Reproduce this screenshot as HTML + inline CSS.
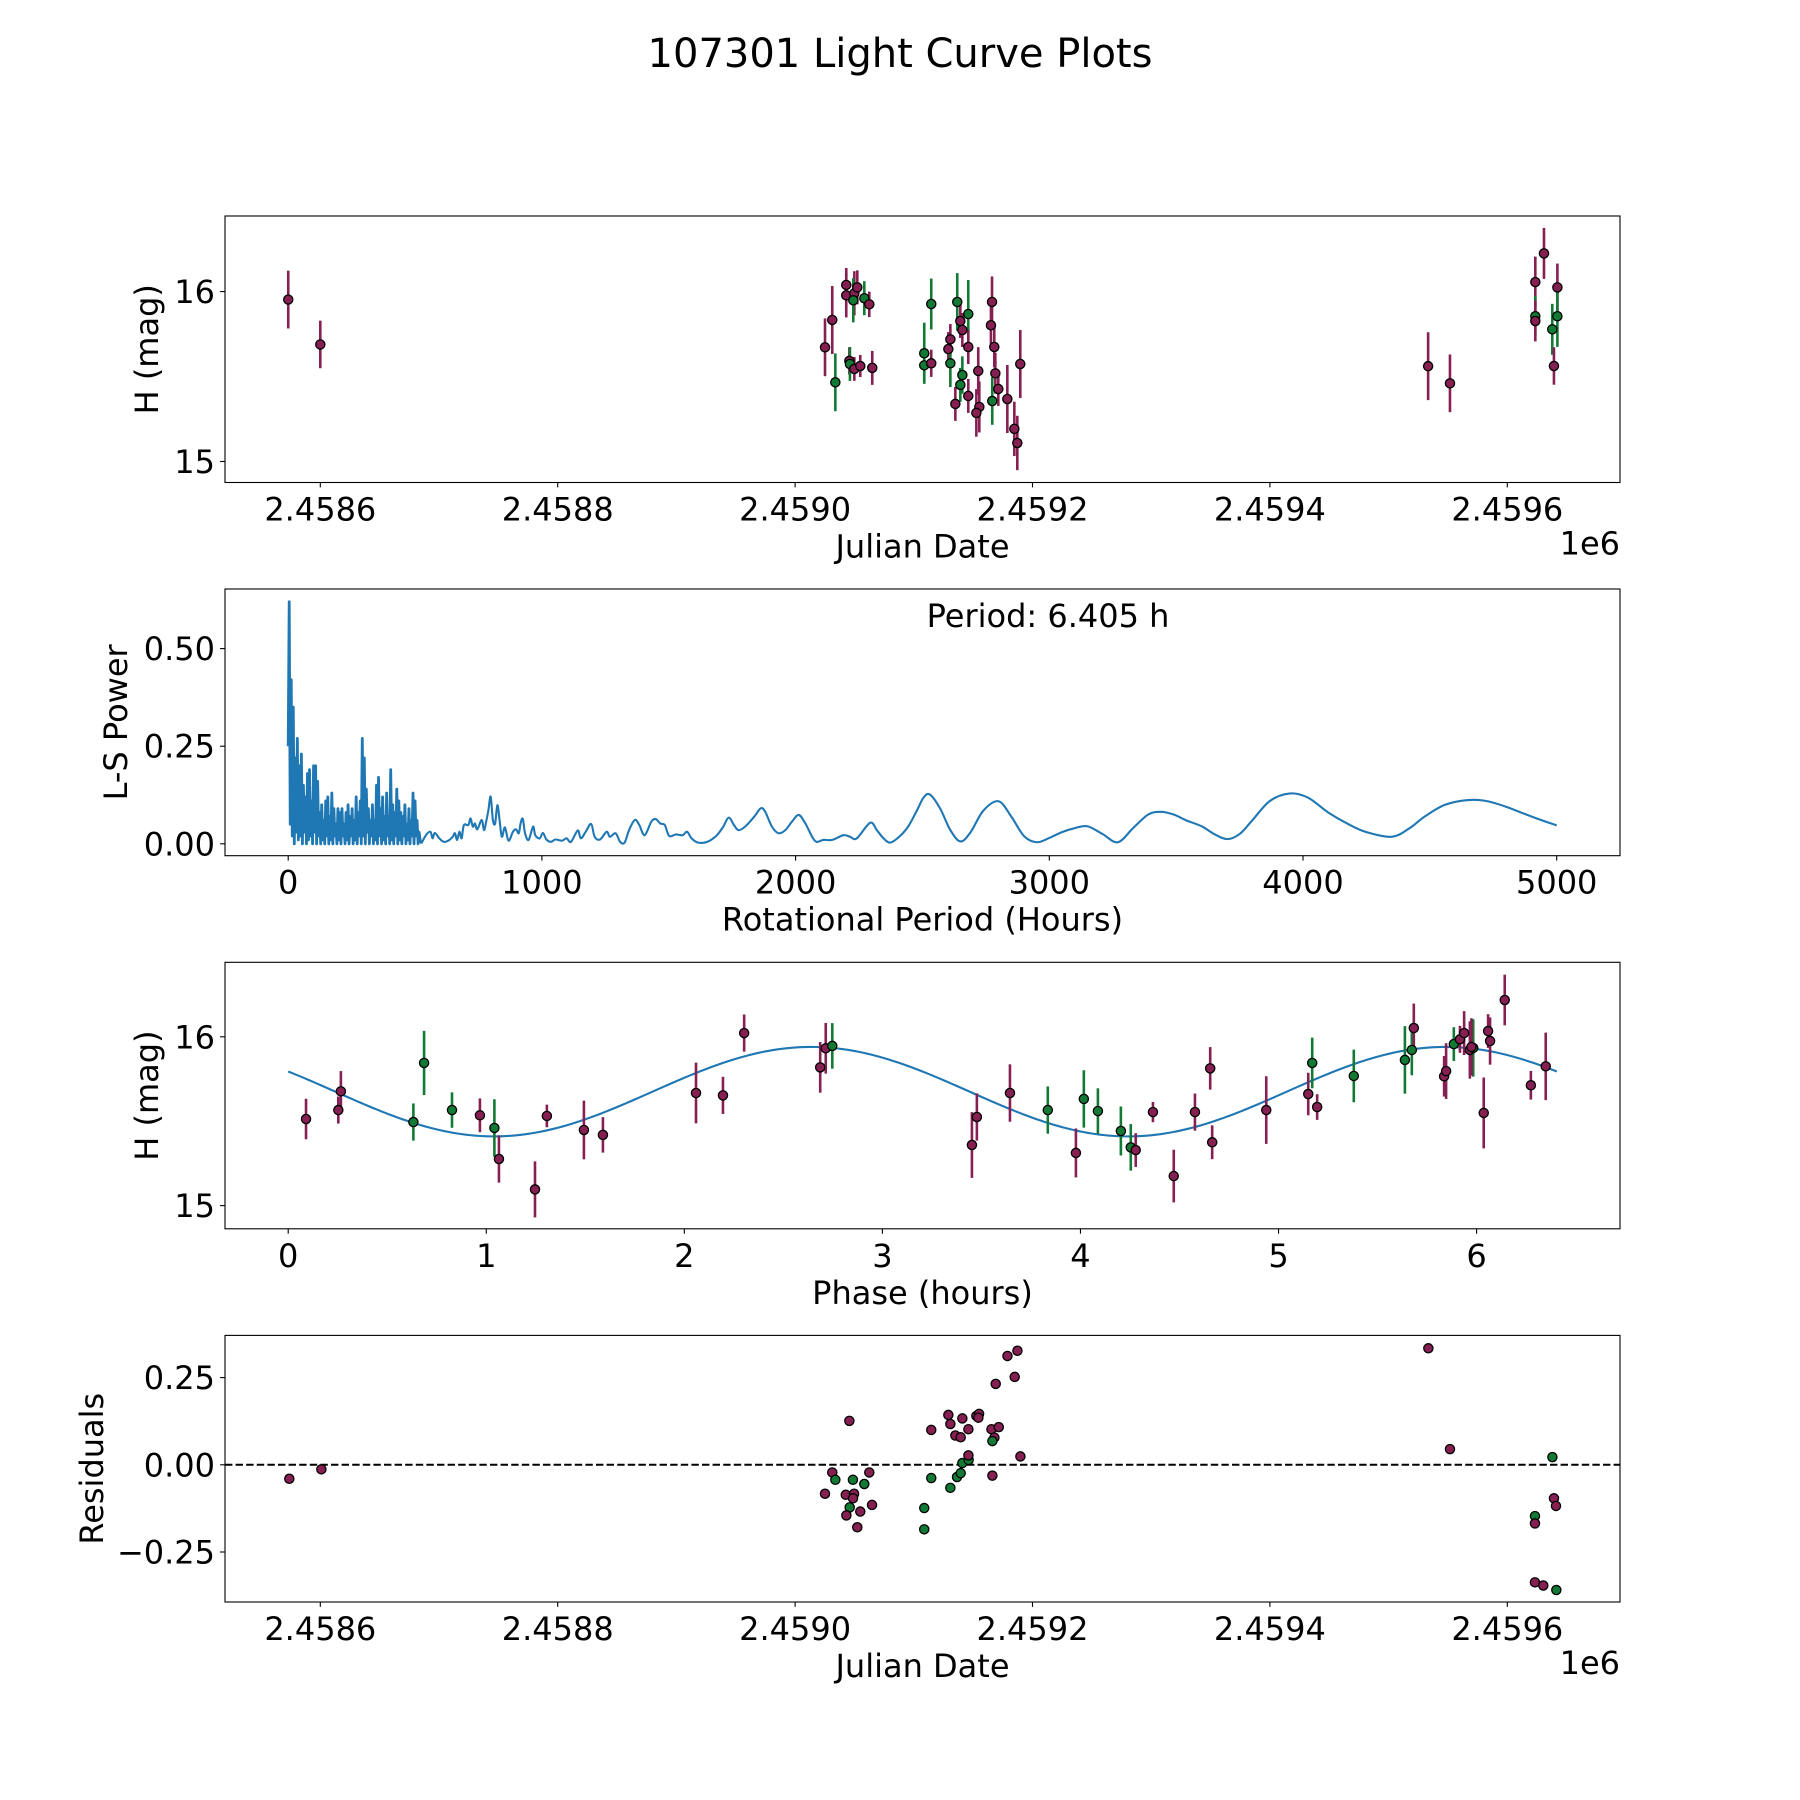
<!DOCTYPE html>
<html><head><meta charset="utf-8"><title>107301 Light Curve Plots</title>
<style>html,body{margin:0;padding:0;background:#fff}svg{display:block}text{font-family:"DejaVu Sans","Liberation Sans",sans-serif;fill:#000}</style>
</head><body>
<svg id="fig" xmlns="http://www.w3.org/2000/svg" width="1800" height="1800" viewBox="0 0 1800 1800">
<rect x="0" y="0" width="1800" height="1800" fill="#fff"/>
<text x="900" y="67" font-size="40" text-anchor="middle">107301 Light Curve Plots</text>
</svg>
<script>
// ---------- Panel 1 data: Julian date, H mag, error, filter ----------
const lcJD = [2458573.0,2458600.0,2459025.2,2459031.3,2459033.9,2459043.1,2459043.1,2459049.9,2459049.0,2459052.4,2459058.3,2459062.5,2459045.7,2459046.2,2459049.9,2459054.9,2459065.0,2459108.8,2459108.8,2459114.7,2459114.7,2459136.6,2459139.2,2459140.9,2459145.9,2459130.8,2459129.1,2459130.8,2459145.9,2459140.9,2459139.2,2459135.0,2459145.9,2459154.3,2459155.2,2459152.7,2459165.9,2459165.0,2459167.8,2459168.7,2459166.1,2459171.2,2459178.8,2459184.7,2459187.2,2459189.7,2459533.3,2459551.7,2459630.9,2459623.6,2459642.2,2459623.6,2459623.6,2459642.2,2459637.9,2459639.3];
const lcMag = [15.953,15.689,15.672,15.833,15.466,16.039,15.978,15.990,15.949,16.025,15.961,15.925,15.592,15.574,15.545,15.562,15.551,15.637,15.566,15.578,15.927,15.939,15.827,15.774,15.868,15.719,15.662,15.578,15.674,15.509,15.451,15.339,15.386,15.533,15.321,15.286,15.939,15.802,15.674,15.519,15.356,15.427,15.368,15.192,15.109,15.574,15.561,15.460,16.225,16.056,16.025,15.855,15.827,15.855,15.778,15.562];
const lcErr = [0.17,0.14,0.17,0.20,0.17,0.10,0.13,0.13,0.13,0.10,0.10,0.075,0.08,0.10,0.07,0.065,0.10,0.18,0.10,0.08,0.15,0.17,0.10,0.10,0.20,0.09,0.10,0.14,0.10,0.11,0.10,0.10,0.10,0.14,0.15,0.14,0.15,0.12,0.12,0.12,0.14,0.10,0.20,0.16,0.16,0.20,0.20,0.17,0.15,0.15,0.14,0.12,0.12,0.18,0.15,0.11];
const lcFilt = ['o','o','o','o','c','o','o','o','c','o','c','o','o','c','o','o','o','c','c','o','c','c','o','o','c','o','o','c','o','c','c','o','o','o','o','o','o','o','o','o','c','o','o','o','o','o','o','o','o','o','o','c','o','c','c','o'];

// ---------- Panel 2 data: Lomb-Scargle periodogram ----------
const lsDenseStep = 4;
const lsDensePower = [0.25,0.62,0.05,0.42,0.02,0.35,0.0,0.22,0.03,0.27,0.01,0.2,0.02,0.23,0.0,0.15,0.03,0.12,0.0,0.18,0.01,0.19,0.02,0.11,0.0,0.2,0.03,0.2,0.0,0.16,0.02,0.08,0.0,0.1,0.01,0.06,0.0,0.11,0.02,0.12,0.0,0.07,0.01,0.13,0.0,0.09,0.02,0.05,0.0,0.09,0.01,0.08,0.0,0.09,0.02,0.05,0.0,0.08,0.01,0.1,0.0,0.07,0.02,0.09,0.0,0.06,0.01,0.12,0.0,0.08,0.02,0.11,0.0,0.27,0.02,0.22,0.0,0.14,0.03,0.09,0.0,0.06,0.02,0.1,0.0,0.06,0.01,0.15,0.0,0.17,0.02,0.09,0.0,0.12,0.01,0.07,0.0,0.13,0.02,0.07,0.0,0.19,0.01,0.1,0.0,0.08,0.02,0.14,0.0,0.11,0.01,0.08,0.0,0.07,0.02,0.1,0.0,0.05,0.01,0.09,0.0,0.06,0.02,0.13,0.0,0.11,0.02,0.06,0.0,0.03,0.01];
const lsPeriods = [525.2,542.8,560.4,569.2,578.0,595.6,613.2,630.8,648.4,657.2,666.0,674.8,683.6,692.4,710.0,718.8,727.6,736.4,745.2,762.8,771.6,780.4,789.2,798.0,806.8,815.6,824.4,833.2,842.0,854.3,868.4,886.0,898.3,908.9,915.9,924.7,933.5,947.6,965.2,973.9,991.5,1003.9,1018.0,1035.6,1053.2,1079.5,1097.1,1114.7,1141.1,1153.5,1172.8,1194.0,1208.0,1229.1,1255.5,1267.9,1290.7,1308.3,1325.9,1343.5,1366.4,1384.0,1405.1,1431.5,1449.1,1466.7,1484.3,1501.9,1528.3,1554.7,1572.3,1589.9,1616.3,1651.5,1686.7,1713.1,1736.0,1757.1,1774.7,1801.1,1836.3,1862.7,1880.3,1906.7,1933.1,1959.5,1985.9,2012.3,2038.7,2065.1,2082.7,2109.1,2144.3,2188.3,2214.7,2241.1,2293.9,2320.3,2346.7,2373.1,2408.3,2443.5,2478.7,2505.1,2530,2570,2610,2650,2690,2740,2800,2850,2900,2950,3000,3050,3100,3150,3210,3270,3330,3390,3440,3490,3540,3600,3650,3700,3750,3800,3870,3950,4020,4100,4180,4250,4350,4420,4480,4560,4650,4720,4800,4900,5000];
const lsPower = [0.001,0.022,0.031,0.014,0.028,0.014,0.005,0.008,0.018,0.027,0.010,0.031,0.014,0.048,0.048,0.065,0.044,0.052,0.037,0.061,0.035,0.057,0.086,0.121,0.061,0.052,0.099,0.061,0.018,0.042,0.008,0.031,0.037,0.027,0.052,0.064,0.027,0.010,0.044,0.022,0.014,0.028,0.011,0.005,0.011,0.008,0.014,0.005,0.034,0.014,0.031,0.051,0.018,0.011,0.031,0.018,0.027,0.005,0.003,0.035,0.061,0.048,0.022,0.057,0.063,0.052,0.048,0.020,0.024,0.022,0.031,0.014,0.003,0.005,0.020,0.042,0.067,0.048,0.035,0.044,0.069,0.091,0.082,0.044,0.027,0.035,0.057,0.074,0.052,0.018,0.005,0.010,0.010,0.022,0.018,0.014,0.054,0.035,0.014,0.003,0.018,0.044,0.086,0.119,0.126,0.09,0.035,0.006,0.03,0.085,0.109,0.07,0.02,0.004,0.015,0.03,0.04,0.045,0.025,0.004,0.04,0.075,0.082,0.075,0.06,0.045,0.025,0.012,0.025,0.06,0.11,0.129,0.118,0.08,0.05,0.03,0.018,0.04,0.07,0.1,0.112,0.11,0.095,0.07,0.047];
const bestPeriodLabel = "Period: 6.405 h";

// ---------- Panel 3 data: phase folded ----------
const phPhase = [0.090,0.253,0.266,0.632,0.686,0.827,0.968,1.041,1.064,1.246,1.306,1.493,1.589,2.059,2.195,2.302,2.686,2.714,2.747,3.452,3.477,3.644,3.835,4.017,4.088,3.977,4.204,4.254,4.279,4.366,4.578,4.471,4.655,4.665,4.938,5.150,5.170,5.195,5.380,5.638,5.673,5.683,5.836,5.846,5.885,5.916,5.937,5.966,5.983,5.974,6.058,6.068,6.036,6.142,6.274,6.349];
const phMag = [15.513,15.566,15.677,15.495,15.845,15.566,15.535,15.460,15.276,15.096,15.531,15.448,15.419,15.667,15.653,16.022,15.819,15.932,15.946,15.359,15.525,15.667,15.566,15.632,15.560,15.312,15.442,15.345,15.329,15.554,15.554,15.175,15.813,15.375,15.566,15.661,15.845,15.584,15.768,15.863,15.922,16.052,15.766,15.797,15.957,15.985,16.022,15.922,15.934,15.940,16.034,15.975,15.549,16.218,15.713,15.825];
const phErr = [0.12,0.08,0.12,0.11,0.19,0.105,0.10,0.17,0.14,0.166,0.067,0.174,0.105,0.18,0.11,0.11,0.15,0.15,0.135,0.195,0.14,0.17,0.14,0.17,0.135,0.145,0.145,0.138,0.10,0.06,0.11,0.156,0.126,0.10,0.20,0.126,0.15,0.076,0.156,0.20,0.15,0.145,0.12,0.165,0.10,0.08,0.13,0.17,0.17,0.17,0.10,0.14,0.21,0.15,0.085,0.20];
const phFilt = ['o','o','o','c','c','c','o','c','o','o','o','o','o','o','o','o','o','o','c','o','o','o','c','c','c','o','c','c','o','o','o','o','o','o','o','o','c','o','c','c','c','o','o','o','c','o','o','o','c','o','o','o','o','o','o','o'];
const fitMean = 15.675, fitAmp = 0.265, fitPeakPhase = 2.64, fitHalfPeriod = 3.2025, fitPeriod = 6.405;

// ---------- Panel 4 data: residuals ----------
const resJD = [2458573.9,2458600.9,2459031.3,2459033.9,2459025.2,2459045.7,2459048.7,2459042.7,2459049.7,2459048.8,2459046.0,2459043.2,2459054.9,2459062.5,2459058.3,2459064.8,2459052.4,2459108.8,2459108.8,2459114.7,2459114.7,2459129.1,2459130.8,2459135.0,2459139.5,2459140.9,2459146.0,2459130.8,2459136.4,2459139.5,2459140.9,2459146.2,2459146.0,2459152.7,2459155.0,2459154.4,2459165.4,2459171.6,2459167.9,2459166.2,2459166.2,2459169.0,2459178.9,2459187.3,2459185.0,2459189.8,2459533.5,2459551.7,2459638.0,2459639.3,2459641.0,2459623.3,2459623.3,2459623.3,2459630.3,2459641.3];
const resVal = [-0.040,-0.013,-0.022,-0.043,-0.083,0.126,-0.043,-0.086,-0.083,-0.096,-0.122,-0.145,-0.134,-0.022,-0.055,-0.115,-0.179,-0.124,-0.185,0.100,-0.038,0.143,0.117,0.084,0.079,0.133,0.102,-0.066,-0.035,-0.024,0.005,0.014,0.027,0.140,0.146,0.135,0.102,0.108,0.078,0.068,-0.031,0.232,0.312,0.327,0.252,0.024,0.334,0.045,0.022,-0.096,-0.118,-0.147,-0.168,-0.337,-0.346,-0.359];
const resFilt = ['o','o','o','c','o','o','c','o','o','o','c','o','o','o','c','o','o','c','c','o','c','o','o','o','o','o','o','c','c','c','c','c','o','o','o','o','o','o','o','c','o','o','o','o','o','o','o','o','c','o','o','c','o','o','o','c'];

// ---------- tick labels ----------
const jdTicks = [2458600,2458800,2459000,2459200,2459400,2459600];
const jdTickLabels = ["2.4586","2.4588","2.4590","2.4592","2.4594","2.4596"];
const magTicks = [15,16];
const magTickLabels = ["15","16"];
const lsXTicks = [0,1000,2000,3000,4000,5000];
const lsXTickLabels = ["0","1000","2000","3000","4000","5000"];
const lsYTicks = [0,0.25,0.5];
const lsYTickLabels = ["0.00","0.25","0.50"];
const phTicks = [0,1,2,3,4,5,6];
const phTickLabels = ["0","1","2","3","4","5","6"];
const resTicks = [-0.25,0,0.25];
const resTickLabels = ["\u22120.25","0.00","0.25"];

const NS = "http://www.w3.org/2000/svg";
const fig = document.getElementById('fig');
const COL = {o:'#861f52', c:'#137a35'};
const FS = 32;
function mk(tag, attrs, parent){const e=document.createElementNS(NS,tag);for(const k in attrs)e.setAttribute(k,attrs[k]);(parent||fig).appendChild(e);return e;}
function lin(d0,d1,p0,p1){return v=>p0+(v-d0)*(p1-p0)/(d1-d0);}

const L=225,R=1620;
function axesFrame(name, top, bot, g){
  const r=mk('rect',{x:L,y:top,width:R-L,height:bot-top,fill:'none',stroke:'#000','stroke-width':1.1},g);
  
  
}
function xTicks(name, g, sx, ticks, labels, bot){
  ticks.forEach((t,i)=>{
    const x=sx(t);
    const tk=mk('line',{x1:x,x2:x,y1:bot,y2:bot+4.9,stroke:'#000','stroke-width':1.1},g);
    
    
    const tx=mk('text',{x:x,y:bot+38,'font-size':FS,'text-anchor':'middle'},g);
    tx.textContent=labels[i];
    
    
  });
}
function yTicks(name, g, sy, ticks, labels){
  ticks.forEach((t,i)=>{
    const y=sy(t);
    const tk=mk('line',{x1:L-4.9,x2:L,y1:y,y2:y,stroke:'#000','stroke-width':1.1},g);
    
    
    const tx=mk('text',{x:L-10,y:y+11.5,'font-size':FS,'text-anchor':'end'},g);
    tx.textContent=labels[i];
    
    
  });
}
function xLabel(name, g, txt, bot){
  const t=mk('text',{x:(L+R)/2,y:bot+75,'font-size':FS,'text-anchor':'middle'},g);
  t.textContent=txt;
  
  
}
function yLabel(name, g, txt, top, bot, cx){
  const cy=(top+bot)/2;
  const t=mk('text',{x:cx,y:cy,'font-size':FS,'text-anchor':'middle',transform:`rotate(-90 ${cx} ${cy})`,'dominant-baseline':'central'},g);
  t.textContent=txt;
  
  
}
function offsetText(name, g, bot){
  const t=mk('text',{x:R,y:bot+72,'font-size':FS,'text-anchor':'end'},g);
  t.textContent='1e6';
  
  
}
function errPoints(name, g, xs, ys, es, fs, sx, sy){
  xs.forEach((v,i)=>{
    const x=sx(v);
    const b=mk('line',{x1:x,x2:x,y1:sy(ys[i]-es[i]),y2:sy(ys[i]+es[i]),stroke:COL[fs[i]],'stroke-width':2.6},g);
    
    
  });
  xs.forEach((v,i)=>{
    const c=mk('circle',{cx:sx(v),cy:sy(ys[i]),r:4.6,fill:COL[fs[i]],stroke:'#000','stroke-width':1.3},g);
    
    
  });
}
function smoothPath(p){
  let d='M'+p[0][0].toFixed(2)+','+p[0][1].toFixed(2);
  for(let i=0;i<p.length-1;i++){
    const p0=p[Math.max(0,i-1)],p1=p[i],p2=p[i+1],p3=p[Math.min(p.length-1,i+2)];
    const c1x=p1[0]+(p2[0]-p0[0])/6,c1y=p1[1]+(p2[1]-p0[1])/6;
    const c2x=p2[0]-(p3[0]-p1[0])/6,c2y=p2[1]-(p3[1]-p1[1])/6;
    d+=` C${c1x.toFixed(2)},${c1y.toFixed(2)} ${c2x.toFixed(2)},${c2y.toFixed(2)} ${p2[0].toFixed(2)},${p2[1].toFixed(2)}`;
  }
  return d;
}

// ===== Panel 1 =====
{
  const top=216,bot=482.5;
  const g=mk('g',{});
  
  
  const sx=lin(2458600,2459600,320.3,1507.3), sy=lin(15,16,461.5,291.6);
  errPoints('light-curve', g, lcJD, lcMag, lcErr, lcFilt, sx, sy);
  axesFrame('light-curve', top, bot, g);
  xTicks('light-curve', g, sx, jdTicks, jdTickLabels, bot);
  yTicks('light-curve', g, sy, magTicks, magTickLabels);
  xLabel('light-curve', g, 'Julian Date', bot);
  offsetText('light-curve', g, bot);
  yLabel('light-curve', g, 'H (mag)', top, bot, 147);
}
// ===== Panel 2 =====
{
  const top=589,bot=855.7;
  const g=mk('g',{});
  
  
  const sx=lin(0,5000,288.2,1556.7), sy=lin(0,0.5,843.8,648.6);
  let pts=[];
  lsDensePower.forEach((p,i)=>pts.push(sx(i*lsDenseStep).toFixed(2)+','+sy(p).toFixed(2)));
  pts.push(sx(lsPeriods[0]).toFixed(2)+','+sy(lsPower[0]).toFixed(2));
  const pl=mk('polyline',{points:pts.join(' '),fill:'none',stroke:'#1f77b4','stroke-width':2.8,'stroke-linejoin':'round'},g);
  
  
  const sp=lsPeriods.map((P,i)=>[sx(P),sy(lsPower[i])]);
  const path=mk('path',{d:smoothPath(sp),fill:'none',stroke:'#1f77b4','stroke-width':2.1,'stroke-linejoin':'round'},g);
  
  
  axesFrame('periodogram', top, bot, g);
  xTicks('periodogram', g, sx, lsXTicks, lsXTickLabels, bot);
  yTicks('periodogram', g, sy, lsYTicks, lsYTickLabels);
  xLabel('periodogram', g, 'Rotational Period (Hours)', bot);
  yLabel('periodogram', g, 'L-S Power', top, bot, 116);
  const pt=mk('text',{x:1048,y:627,'font-size':FS,'text-anchor':'middle'},g);
  pt.textContent=bestPeriodLabel;
  
  
}
// ===== Panel 3 =====
{
  const top=962.3,bot=1228.8;
  const g=mk('g',{});
  
  
  const sx=lin(0,6,288.2,1476.6), sy=lin(15,16,1205.6,1036.8);
  let pts=[];
  for(let i=0;i<=300;i++){const ph=fitPeriod*i/300;const m=fitMean+fitAmp*Math.cos(2*Math.PI*(ph-fitPeakPhase)/fitHalfPeriod);pts.push(sx(ph).toFixed(2)+','+sy(m).toFixed(2));}
  const pl=mk('polyline',{points:pts.join(' '),fill:'none',stroke:'#1f77b4','stroke-width':2.1},g);
  
  
  errPoints('phase-folded', g, phPhase, phMag, phErr, phFilt, sx, sy);
  axesFrame('phase-folded', top, bot, g);
  xTicks('phase-folded', g, sx, phTicks, phTickLabels, bot);
  yTicks('phase-folded', g, sy, magTicks, magTickLabels);
  xLabel('phase-folded', g, 'Phase (hours)', bot);
  yLabel('phase-folded', g, 'H (mag)', top, bot, 147);
}
// ===== Panel 4 =====
{
  const top=1335.4,bot=1602;
  const g=mk('g',{});
  
  
  const sx=lin(2458600,2459600,320.3,1507.3), sy=lin(0,0.25,1464.8,1377.6);
  const zl=mk('line',{x1:L,x2:R,y1:sy(0),y2:sy(0),stroke:'#000','stroke-width':2,'stroke-dasharray':'7.4,3.2'},g);
  
  
  resJD.forEach((v,i)=>{
    const c=mk('circle',{cx:sx(v),cy:sy(resVal[i]),r:4.6,fill:COL[resFilt[i]],stroke:'#000','stroke-width':1.3},g);
    
    
  });
  axesFrame('residuals', top, bot, g);
  xTicks('residuals', g, sx, jdTicks, jdTickLabels, bot);
  yTicks('residuals', g, sy, resTicks, resTickLabels);
  xLabel('residuals', g, 'Julian Date', bot);
  offsetText('residuals', g, bot);
  yLabel('residuals', g, 'Residuals', top, bot, 92);
}
</script>
</body></html>
